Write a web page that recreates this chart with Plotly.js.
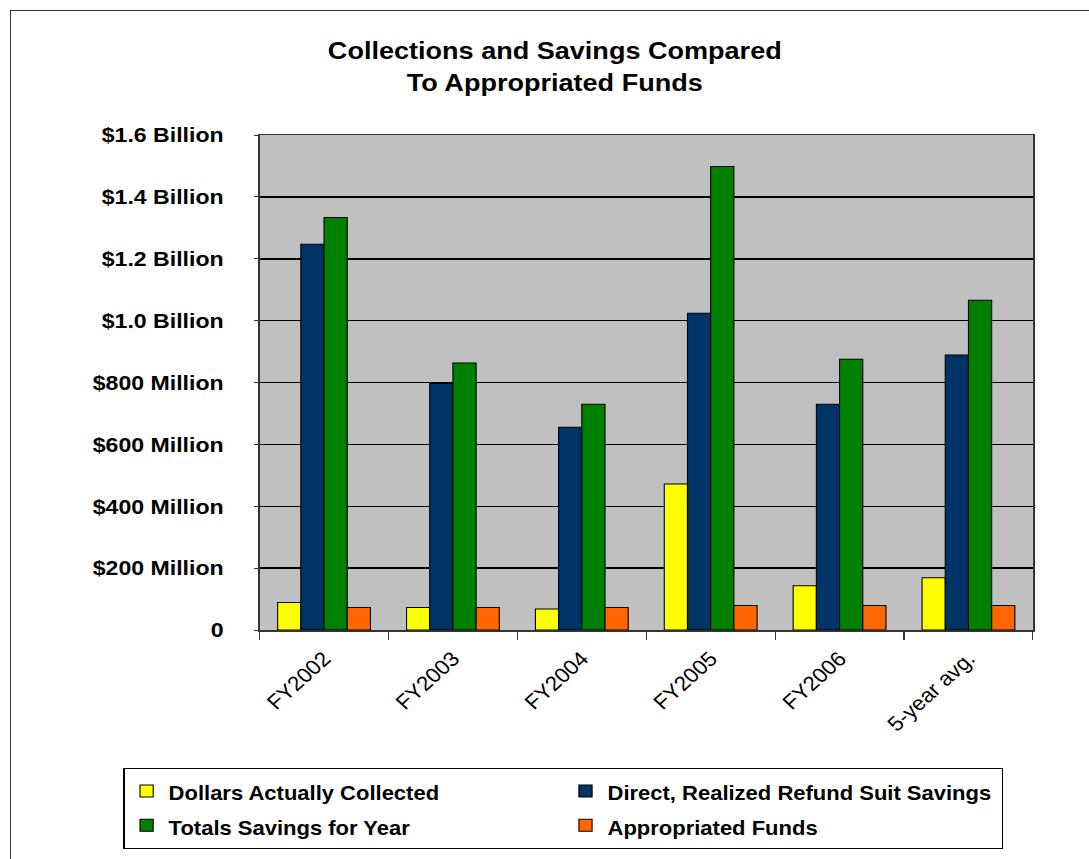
<!DOCTYPE html>
<html><head><meta charset="utf-8">
<script src="https://cdn.plot.ly/plotly-3.0.1.min.js"></script>
<style>
html,body{margin:0;padding:0;background:#fff;overflow:hidden;}
#frame{position:absolute;left:10px;top:10px;width:1200px;height:1000px;border-left:1px solid #333;border-top:1px solid #333;pointer-events:none;}
#chart{position:absolute;left:0;top:0;width:990px;height:859px;transform:scaleX(1.1);transform-origin:0 0;}
</style>
</head><body>
<div id="chart"></div>
<div id="frame"></div>
<script>
const categories = ["FY2002","FY2003","FY2004","FY2005","FY2006","5-year avg."];
// values in millions of dollars
const dollarsCollected = [89, 73, 68, 472, 143, 169];
const directSavings = [1247, 797, 655, 1024, 730, 889];
const totalSavings = [1333, 863, 730, 1498, 875, 1066];
const appropriatedFunds = [73, 73, 73, 79, 79, 79];
const tickVals = [0,200,400,600,800,1000,1200,1400,1600];
const tickText = ["0","$200 Million","$400 Million","$600 Million","$800 Million","$1.0 Billion","$1.2 Billion","$1.4 Billion","$1.6 Billion"];
const titleText = "Collections and Savings Compared<br>To Appropriated Funds";

const FONT = "Liberation Sans, Arial, sans-serif";
const line = {color:"#000", width:1};
const traces = [
  {name:"Dollars Actually Collected", y:dollarsCollected, color:"#FFFF00"},
  {name:"Direct, Realized Refund Suit Savings", y:directSavings, color:"#003366"},
  {name:"Totals Savings for Year", y:totalSavings, color:"#008000"},
  {name:"Appropriated Funds", y:appropriatedFunds, color:"#FF6600"}
].map(s => ({type:"bar", name:'<span style="font-size:20px"><b>'+s.name+'</b></span>', x:categories, y:s.y, marker:{color:s.color, line:line}}));

const layout = {
  width:990, height:859,
  paper_bgcolor:"rgba(0,0,0,0)",
  plot_bgcolor:"#C0C0C0",
  margin:{l:235.5, r:51, t:135, b:229, autoexpand:false},
  barmode:"group", bargap:0.28, bargroupgap:0,
  font:{family:FONT, color:"#000"},
  annotations:[{text:"<b>"+titleText+"</b>", xref:"paper", yref:"paper", x:0.3824, y:1.1384,
    xanchor:"center", yanchor:"middle", showarrow:false, align:"center",
    font:{size:24.6, family:FONT, color:"#000"}}],
  xaxis:{type:"category", tickangle:-45, ticks:"outside", tickson:"boundaries", ticklen:8, tickcolor:"#333",
    showline:true, linecolor:"#333", linewidth:1.5, mirror:true, showgrid:false,
    ticklabelstandoff:7, automargin:false,
    tickfont:{size:20.5, family:FONT, color:"#000"}},
  yaxis:{range:[0,1600], tickvals:tickVals, ticktext:tickText.map(t=>"<b>"+t+"</b>"),
    ticks:"outside", ticklen:4, tickcolor:"#333", showgrid:true, gridcolor:"#000", gridwidth:1.5,
    showline:true, linecolor:"#333", linewidth:1.5, mirror:true, zeroline:false,
    ticklabelstandoff:23, automargin:false,
    tickfont:{size:21, family:FONT, color:"#000"}},
  legend:{orientation:"h", x:-0.176, xanchor:"left", y:-0.2788, yanchor:"top",
    bgcolor:"#fff", bordercolor:"#000", borderwidth:1, entrywidth:354,
    traceorder:"normal", itemwidth:30,
    font:{size:24, family:FONT, color:"#000"}},
  showlegend:true
};
Plotly.newPlot("chart", traces, layout, {displayModeBar:false, staticPlot:true});
</script>
</body></html>
